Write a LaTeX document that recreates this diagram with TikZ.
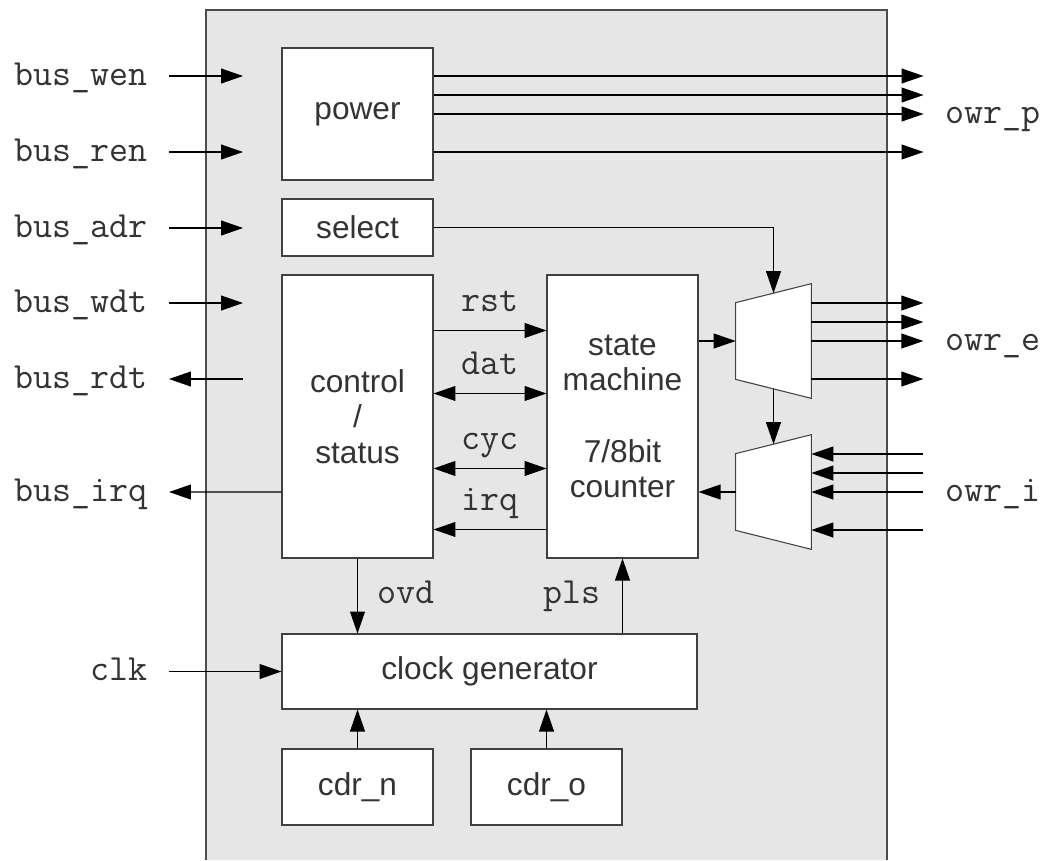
\documentclass[tikz,border=0pt]{standalone}
\usepackage{fontspec}
\setmainfont{Liberation Sans}
\usepackage{tikz}
\usetikzlibrary{arrows.meta,positioning,calc}
\definecolor{TEXTGRAY}{HTML}{333333}
\definecolor{CHIPGRAY}{HTML}{E6E6E6}
\def\px{0.02cm}
\tikzstyle{BLOCK} = [rectangle, draw=black!75, fill=white, line width=0.6pt, inner sep=0pt, align=center, text=TEXTGRAY, font=\fontsize{18}{20.3}\selectfont]
\tikzstyle{MUX} = [rectangle, inner sep=0pt, minimum width=75*\px, minimum height=114*\px]
\tikzstyle{SIGNAL} = [inner sep=0pt, text=TEXTGRAY, font=\ttfamily\fontsize{21}{24}\selectfont]
\tikzstyle{WIRELABEL} = [SIGNAL, anchor=base, yshift=10.8pt]
\tikzstyle{LINE} = [draw, line width=0.6pt, -{Triangle[length=12.5pt,width=8.5pt]}]
\tikzstyle{BILINE} = [draw, line width=0.6pt, {Triangle[length=12.5pt,width=8.5pt]}-{Triangle[length=12.5pt,width=8.5pt]}]

\begin{document}
\begin{tikzpicture}[x=0.02cm, y=-0.02cm]
\useasboundingbox (0,0) rectangle (1047,860);
% Define
\path [fill=CHIPGRAY, draw=black!70, line width=0.6pt] (206,860) -- (206,10) -- (887,10) -- (887,860);
% Place node
\node [BLOCK, minimum width=151*\px, minimum height=132*\px] (POWER) at (357.5,114) {power};
\node [BLOCK, minimum width=151*\px, minimum height=57*\px] (SELECT) at (357.5,227.5) {select};
\node [BLOCK, minimum width=151*\px, minimum height=283*\px] (CTRL) at (357.5,416.5) {control\\/\\status};
\node [BLOCK, minimum width=151*\px, minimum height=283*\px] (FSM) at (622.5,416.5) {state\\machine\\[20.3pt]7/8bit\\counter};
\node [BLOCK, minimum width=415*\px, minimum height=75*\px] (CLKGEN) at (489.5,671.5) {clock generator};
\node [BLOCK, minimum width=151*\px, minimum height=76*\px] (CDR_N) at (357.5,787) {cdr\_n};
\node [BLOCK, minimum width=151*\px, minimum height=76*\px] (CDR_O) at (546.5,787) {cdr\_o};
\node [MUX] (MUX_E) at (773.5,341) {};
\node [MUX] (MUX_I) at (773.5,492) {};
\foreach \m in {MUX_E,MUX_I}
  \draw [draw=black!75, fill=white, line width=0.6pt] ($(\m.north west)+(0,19)$) -- (\m.north east) -- (\m.south east) -- ($(\m.south west)+(0,-19)$) -- cycle;
\coordinate (MUX_E_TOP) at ($(MUX_E.north)+(0,9.5)$);
\coordinate (MUX_E_BOT) at ($(MUX_E.south)+(0,-9.5)$);
\coordinate (MUX_I_TOP) at ($(MUX_I.north)+(0,9.5)$);
% pins
\foreach \name/\y in {wen/76, ren/152, adr/228, wdt/303, rdt/379, irq/492}
  \node [SIGNAL, anchor=base east] (BUS_\name) at (148,\y+9) {bus\_\name};
\node [SIGNAL, anchor=base east] (CLK) at (148,680.5) {clk};
\node [SIGNAL, anchor=base west] (OWR_P) at (945,123) {owr\_p};
\node [SIGNAL, anchor=base west] (OWR_E) at (945,350) {owr\_e};
\node [SIGNAL, anchor=base west] (OWR_I) at (945,501) {owr\_i};
% LINES and ARROWS
\foreach \name in {wen,ren,adr,wdt}
  \path [LINE] (BUS_\name.base east) ++(21,-9) -- ++(74,0);
\path [LINE] (BUS_rdt.base east) ++(95,-9) -- ++(-74,0);
\path [LINE] ($(CTRL.west)+(0,75.5)$) -- ($(BUS_irq.base east)+(21,-9)$);
\path [LINE] (CLK.base east) ++(21,-9) -- (CLKGEN.west);
\foreach \dy in {-38,-19,0,38}
  \path [LINE] ($(POWER.east)+(0,\dy)$) -- ++(490,0);
\path [LINE] (SELECT.east) -| (MUX_E_TOP);
\path [LINE] (MUX_E_BOT) -- (MUX_I_TOP);
\path [LINE] (FSM.east |- MUX_E.west) -- (MUX_E.west);
\path [LINE] (MUX_I.west) -- (FSM.east |- MUX_I.west);
\foreach \dy in {-38,-19,0,38} {
  \path [LINE] ($(MUX_E.east)+(0,\dy)$) -- ++(112,0);
  \path [LINE] ($(MUX_I.east)+(112,\dy)$) -- ++(-112,0);
}
%
\path [LINE] ($(CTRL.north east)+(0,56)$) -- node [WIRELABEL] (l_rst) {rst} ($(FSM.north west)+(0,56)$);
\path [BILINE] ($(CTRL.north east)+(0,119)$) -- node [WIRELABEL] (l_dat) {dat} ($(FSM.north west)+(0,119)$);
\path [BILINE] ($(CTRL.north east)+(0,194)$) -- node [WIRELABEL] (l_cyc) {cyc} ($(FSM.north west)+(0,194)$);
\path [LINE] ($(FSM.north west)+(0,255)$) -- node [WIRELABEL] (l_irq) {irq} ($(CTRL.north east)+(0,255)$);
%
\path [LINE] (CTRL.south) -- (CTRL.south |- CLKGEN.north);
\path [LINE] (FSM.south |- CLKGEN.north) -- (FSM.south);
\node [SIGNAL, anchor=base] (l_ovd) at (406,603) {ovd};
\node [SIGNAL, anchor=base] (l_pls) at (572,603) {pls};
\path [LINE] (CDR_N.north) -- (CDR_N.north |- CLKGEN.south);
\path [LINE] (CDR_O.north) -- (CDR_O.north |- CLKGEN.south);
\end{tikzpicture}
\end{document}
